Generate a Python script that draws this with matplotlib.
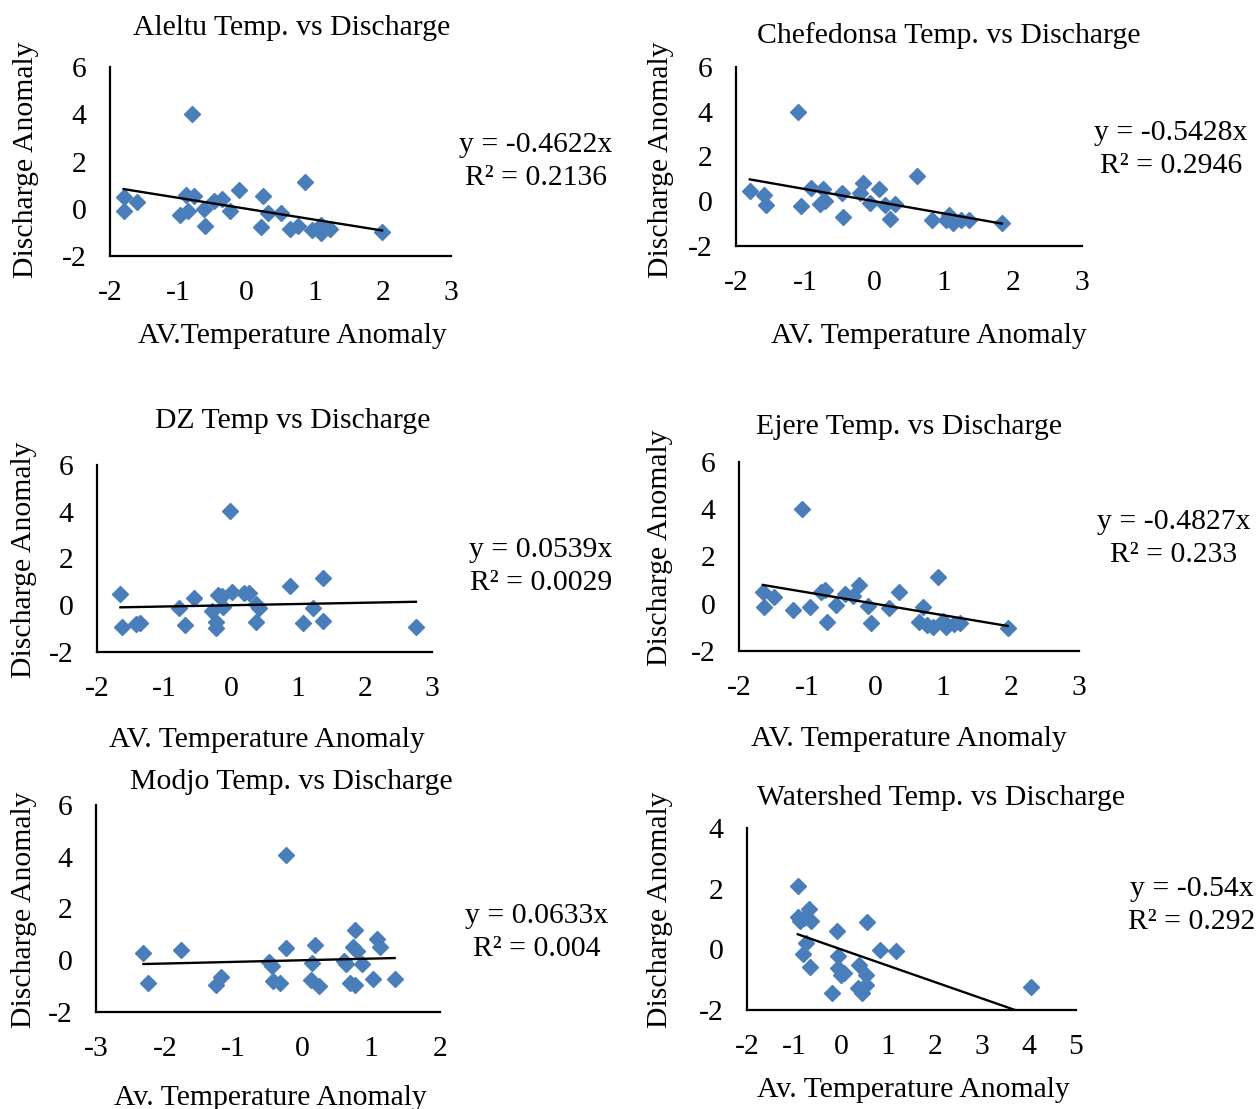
import numpy as np
import matplotlib
matplotlib.use("Agg")
import matplotlib.pyplot as plt

W, H = 1256, 1109
plt.rcParams['font.family'] = ['Liberation Serif', 'DejaVu Serif']
plt.rcParams['axes.unicode_minus'] = False

AZUL = "#4A7EBB"
FS = 21.4

# Datos (anomalías de temperatura y caudal)
aleltu_x = [-1.80, -1.80, -1.60, -0.80, -0.88, -0.77, -0.98, -0.85, -0.62, -0.61, -0.48, -0.36, -0.24,
            -0.11, 0.25, 0.22, 0.32, 0.50, 0.86, 0.64, 0.75, 0.96, 1.10, 1.09, 1.23, 1.99]
aleltu_y = [0.48, -0.11, 0.28, 4.03, 0.58, 0.55, -0.26, -0.09, 0.00, -0.74, 0.34, 0.41, -0.09,
            0.79, 0.52, -0.79, -0.16, -0.16, 1.15, -0.87, -0.72, -0.89, -0.70, -1.01, -0.87, -0.98]

chefe_x = [-1.80, -1.59, -1.56, -1.11, -1.06, -0.91, -0.75, -0.78, -0.71, -0.47, -0.46, -0.21, -0.16,
           -0.06, 0.06, 0.16, 0.30, 0.22, 0.61, 0.83, 1.08, 1.14, 1.25, 1.37, 1.03, 1.84]
chefe_y = [0.46, 0.30, -0.15, 4.01, -0.22, 0.57, 0.53, -0.13, 0.01, 0.39, -0.70, 0.39, 0.82,
           -0.08, 0.53, -0.15, -0.13, -0.81, 1.14, -0.85, -0.63, -0.96, -0.82, -0.85, -0.82, -0.97]

dz_x = [-1.65, -1.63, -1.42, -1.36, -0.77, -0.69, -0.55, -0.29, -0.22, -0.22, -0.19, -0.14, -0.12,
        -0.01, 0.02, 0.19, 0.27, 0.37, 0.42, 0.37, 0.88, 1.08, 1.22, 1.37, 1.37, 2.76]
dz_y = [0.47, -0.93, -0.81, -0.76, -0.10, -0.85, 0.33, -0.24, -0.71, -0.97, 0.43, 0.38, -0.07,
        4.03, 0.57, 0.53, 0.53, 0.04, -0.10, -0.71, 0.81, -0.76, -0.10, 1.15, -0.67, -0.95]

ejere_x = [-1.65, -1.63, -1.48, -1.21, -1.07, -0.96, -0.80, -0.74, -0.71, -0.57, -0.44, -0.32, -0.24,
           -0.10, -0.06, 0.20, 0.36, 0.71, 0.65, 0.76, 0.85, 0.93, 1.00, 1.05, 1.16, 1.25, 1.95]
ejere_y = [0.48, -0.13, 0.27, -0.26, 4.02, -0.12, 0.51, 0.58, -0.76, -0.06, 0.41, 0.34, 0.80,
           -0.09, -0.80, -0.16, 0.51, -0.12, -0.76, -0.91, -0.98, 1.12, -0.73, -0.98, -0.87, -0.80, -1.01]

modjo_x = [-2.31, -2.24, -1.76, -1.26, -1.19, -0.49, -0.44, -0.43, -0.33, -0.24, -0.24, 0.14, 0.19, 0.12,
           0.24, 0.61, 0.64, 0.69, 0.77, 0.73, 0.77, 0.79, 0.87, 1.02, 1.09, 1.13, 1.34]
modjo_y = [0.28, -0.87, 0.39, -0.97, -0.65, -0.06, -0.22, -0.82, -0.87, 4.05, 0.48, -0.10, 0.58, -0.78,
           -1.00, -0.03, -0.13, -0.88, -0.97, 0.52, 1.17, 0.35, -0.13, -0.74, 0.81, 0.52, -0.74]

cuenca_x = [-0.92, -0.92, -0.87, -0.78, -0.69, -0.64, -0.74, -0.81, -0.67, -0.09, 0.55, -0.07, -0.07,
            0.00, -0.20, 0.39, 0.53, 0.36, 0.44, 0.53, 0.84, 1.17, 4.04, 0.06]
cuenca_y = [2.09, 1.05, 0.92, 1.03, 1.33, 0.95, 0.21, -0.17, -0.58, 0.59, 0.90, -0.23, -0.61,
            -0.85, -1.45, -0.53, -0.85, -1.27, -1.43, -1.16, -0.03, -0.07, -1.24, -0.78]

titulos = ["Aleltu Temp. vs Discharge", "Chefedonsa Temp. vs Discharge", "DZ Temp vs Discharge",
           "Ejere Temp. vs Discharge", "Modjo Temp. vs Discharge", "Watershed Temp. vs Discharge"]
etiquetas_x = ["AV.Temperature Anomaly", "AV. Temperature Anomaly", "AV. Temperature Anomaly",
               "AV. Temperature Anomaly", "Av. Temperature Anomaly", "Av. Temperature Anomaly"]
pendientes = [-0.4622, -0.5428, 0.0539, -0.4827, 0.0633, -0.54]
ecuaciones = ["y = -0.4622x", "y = -0.5428x", "y = 0.0539x", "y = -0.4827x", "y = 0.0633x", "y = -0.54x"]
r2 = ["R² = 0.2136", "R² = 0.2946", "R² = 0.0029", "R² = 0.233", "R² = 0.004", "R² = 0.292"]
limites_x = [(-2, 3), (-2, 3), (-2, 3), (-2, 3), (-3, 2), (-2, 5)]
limites_y = [(-2, 6), (-2, 6), (-2, 6), (-2, 6), (-2, 6), (-2, 4)]

datos = [(aleltu_x, aleltu_y), (chefe_x, chefe_y), (dz_x, dz_y),
         (ejere_x, ejere_y), (modjo_x, modjo_y), (cuenca_x, cuenca_y)]

# cajas de los ejes en pixeles: izquierda, arriba, derecha, abajo
cajas = [(110, 67, 451, 256), (736, 67, 1082, 246), (97, 465, 432, 652),
         (739, 462, 1079, 651), (96, 805, 440, 1012), (747, 828, 1076, 1010)]
# posiciones de textos en pixeles
pos_titulo = [(292, 28), (949, 36), (293, 421), (909, 427), (291, 782), (941, 798)]
pos_xlabel = [(292, 336), (929, 336), (267, 740), (909, 739), (270, 1098), (913, 1090)]
pos_ylabel = [(26, 160), (661, 160), (24, 560), (660, 548), (24, 910), (660, 910)]
pos_ec = [(536, 145), (1171, 133), (541, 550), (1174, 522), (537, 916), (1192, 889)]


def fx(x):
    return x / W


def fy(y):
    return 1 - y / H


fig = plt.figure(figsize=(W / 100, H / 100), dpi=100)

for i in range(6):
    l, t, r, b = cajas[i]
    ax = fig.add_axes([fx(l), fy(b), (r - l) / W, (b - t) / H])
    x = np.array(datos[i][0])
    y = np.array(datos[i][1])
    ax.plot(x, y, "D", color=AZUL, ms=8.3, mec=AZUL, zorder=2)
    xs = np.array([x.min(), x.max()])
    ax.plot(xs, pendientes[i] * xs, color="black", lw=1.7, zorder=3)
    ax.set_xlim(*limites_x[i])
    ax.set_ylim(*limites_y[i])
    ax.set_xticks(np.arange(limites_x[i][0], limites_x[i][1] + 1, 1))
    ax.set_yticks(np.arange(limites_y[i][0], limites_y[i][1] + 1, 2))
    ax.tick_params(length=0, labelsize=FS, pad=17)
    for lado in ["top", "right"]:
        ax.spines[lado].set_visible(False)
    for lado in ["left", "bottom"]:
        ax.spines[lado].set_linewidth(1.6)
    ax.patch.set_alpha(0)

    fig.text(fx(pos_titulo[i][0]), fy(pos_titulo[i][1]), titulos[i], ha="center", va="center", fontsize=FS)
    fig.text(fx(pos_xlabel[i][0]), fy(pos_xlabel[i][1]), etiquetas_x[i], ha="center", va="center", fontsize=FS)
    fig.text(fx(pos_ylabel[i][0]), fy(pos_ylabel[i][1]), "Discharge Anomaly", ha="center", va="center",
             rotation=90, fontsize=FS)
    ex, ey = pos_ec[i]
    fig.text(fx(ex), fy(ey), ecuaciones[i], ha="center", va="center", fontsize=FS)
    fig.text(fx(ex), fy(ey + 33), r2[i], ha="center", va="center", fontsize=FS)

fig.savefig("out.png", dpi=100)
